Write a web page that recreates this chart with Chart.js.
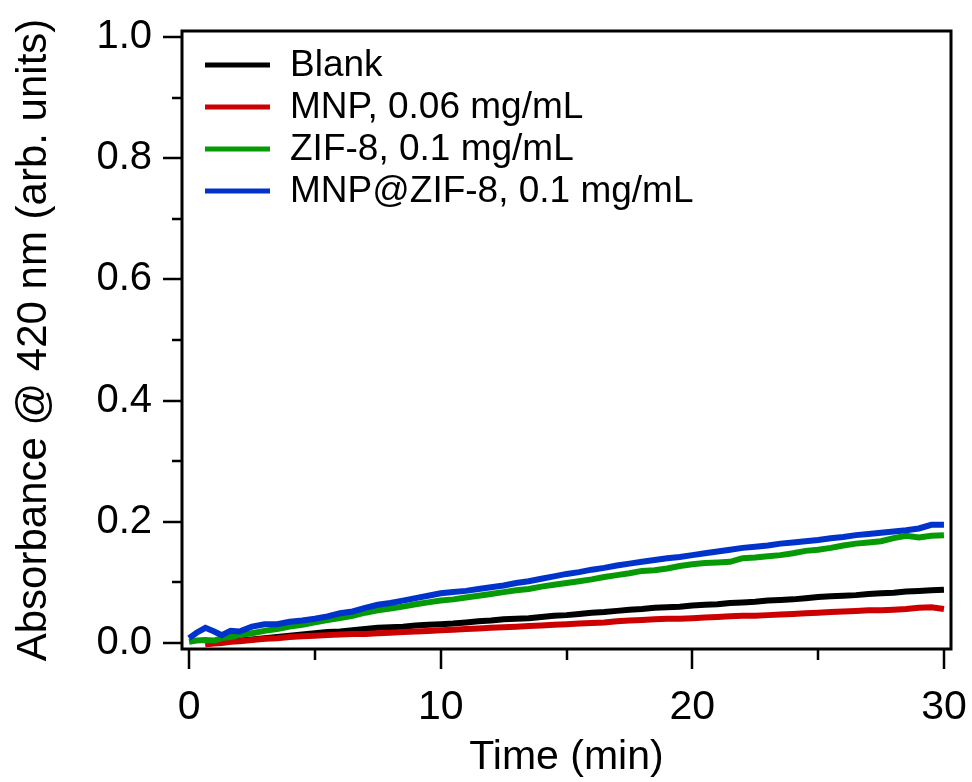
<!DOCTYPE html>
<html>
<head>
<meta charset="utf-8">
<script src="https://cdn.jsdelivr.net/npm/chart.js@4.4.1/dist/chart.umd.min.js"></script>
<style>
  html, body { margin: 0; padding: 0; background: #fff; }
  #wrap { width: 972px; height: 782px; }
</style>
</head>
<body>
<div id="wrap"><canvas id="c" width="972" height="782"></canvas></div>
<script>
// time axis (min), denser at the start where the blue trace wobbles
var timeMin = [0, 0.3, 0.65, 1.0, 1.3, 1.65, 2.0,
    2.5, 3, 3.5, 4, 4.5, 5, 5.5, 6, 6.5, 7, 7.5, 8, 8.5, 9, 9.5, 10,
    10.5, 11, 11.5, 12, 12.5, 13, 13.5, 14, 14.5, 15, 15.5, 16, 16.5, 17, 17.5, 18,
    18.5, 19, 19.5, 20, 20.5, 21, 21.5, 22, 22.5, 23, 23.5, 24, 24.5, 25, 25.5, 26,
    26.5, 27, 27.5, 28, 28.5, 29, 29.5, 30];

var blank = [null, null, -0.001, 0.000, 0.002, 0.003, 0.004,
    0.006, 0.008, 0.010, 0.012, 0.014, 0.016, 0.018, 0.019, 0.021, 0.023, 0.025, 0.026, 0.027, 0.029, 0.030, 0.031,
    0.032, 0.034, 0.036, 0.037, 0.039, 0.040, 0.041, 0.043, 0.045, 0.046, 0.048, 0.050, 0.051, 0.053, 0.055, 0.056,
    0.058, 0.059, 0.060, 0.062, 0.063, 0.064, 0.066, 0.067, 0.068, 0.070, 0.071, 0.072, 0.074, 0.076, 0.077, 0.078,
    0.079, 0.081, 0.082, 0.083, 0.085, 0.086, 0.087, 0.088];

var mnp = [null, null, -0.002, -0.001, 0.000, 0.002, 0.003,
    0.005, 0.007, 0.008, 0.010, 0.011, 0.012, 0.013, 0.014, 0.015, 0.015, 0.016, 0.017, 0.018, 0.019, 0.020, 0.021,
    0.022, 0.023, 0.024, 0.025, 0.026, 0.027, 0.028, 0.029, 0.030, 0.031, 0.032, 0.033, 0.034, 0.036, 0.037, 0.038,
    0.039, 0.040, 0.040, 0.041, 0.042, 0.043, 0.044, 0.045, 0.045, 0.046, 0.047, 0.048, 0.049, 0.050, 0.051, 0.052,
    0.053, 0.054, 0.054, 0.055, 0.056, 0.058, 0.059, 0.056];

var zif8 = [0.002, 0.004, 0.005, 0.004, 0.008, 0.010, 0.013,
    0.016, 0.020, 0.023, 0.027, 0.030, 0.034, 0.038, 0.041, 0.045, 0.050, 0.054, 0.057, 0.060, 0.064, 0.067, 0.070,
    0.072, 0.075, 0.078, 0.081, 0.084, 0.087, 0.089, 0.093, 0.096, 0.099, 0.102, 0.105, 0.109, 0.112, 0.115, 0.119,
    0.120, 0.123, 0.127, 0.130, 0.132, 0.133, 0.134, 0.140, 0.141, 0.143, 0.145, 0.148, 0.152, 0.154, 0.157, 0.161,
    0.164, 0.166, 0.168, 0.173, 0.177, 0.174, 0.177, 0.178];

var mnpZif8 = [0.008, 0.017, 0.025, 0.019, 0.013, 0.020, 0.019,
    0.027, 0.031, 0.031, 0.035, 0.037, 0.040, 0.044, 0.049, 0.052, 0.058, 0.063, 0.066, 0.070, 0.074, 0.078, 0.082,
    0.084, 0.086, 0.089, 0.092, 0.095, 0.099, 0.102, 0.106, 0.110, 0.114, 0.117, 0.121, 0.124, 0.128, 0.131, 0.134,
    0.137, 0.140, 0.142, 0.145, 0.148, 0.151, 0.154, 0.157, 0.159, 0.161, 0.164, 0.166, 0.168, 0.170, 0.173, 0.175,
    0.178, 0.180, 0.182, 0.184, 0.186, 0.189, 0.195, 0.195];

var seriesNames = ['Blank', 'MNP, 0.06 mg/mL', 'ZIF-8, 0.1 mg/mL', 'MNP@ZIF-8, 0.1 mg/mL'];
var seriesColors = ['#000000', '#cc0000', '#079a07', '#0033cc'];
var xTicks = [0, 10, 20, 30];
var xMinorTicks = [5, 15, 25];
var yTicks = [0, 0.2, 0.4, 0.6, 0.8, 1.0];
var yMinorTicks = [0.1, 0.3, 0.5, 0.7, 0.9];

var FONT = "'Liberation Sans', Arial, sans-serif";

function pts(vals) {
    return timeMin.map(function (t, i) { return { x: t, y: vals[i] }; });
}

var seriesValues = [blank, mnp, zif8, mnpZif8];
var datasets = seriesValues.map(function (v, i) {
    return {
        label: seriesNames[i],
        data: pts(v),
        borderColor: seriesColors[i],
        borderWidth: 6,
        pointRadius: 0,
        tension: 0,
        fill: false,
        spanGaps: false,
        order: [3, 2, 1, 0][i]
    };
});

// frame, outside tick marks and the legend (Igor-style box)
var framePlugin = {
    id: 'frame',
    afterDraw: function (chart) {
        var ctx = chart.ctx;
        var a = chart.chartArea;
        var xs = chart.scales.x, ys = chart.scales.y;
        ctx.save();
        ctx.strokeStyle = '#000';
        ctx.lineWidth = 3;
        ctx.strokeRect(a.left, a.top, a.right - a.left, a.bottom - a.top);
        ctx.lineWidth = 2.5;
        ctx.beginPath();
        xTicks.forEach(function (v) {
            var px = Math.round(xs.getPixelForValue(v));
            ctx.moveTo(px, a.bottom); ctx.lineTo(px, a.bottom + 20);
        });
        xMinorTicks.forEach(function (v) {
            var px = Math.round(xs.getPixelForValue(v));
            ctx.moveTo(px, a.bottom); ctx.lineTo(px, a.bottom + 11);
        });
        yTicks.forEach(function (v) {
            var py = Math.round(ys.getPixelForValue(v));
            ctx.moveTo(a.left, py); ctx.lineTo(a.left - 19, py);
        });
        yMinorTicks.forEach(function (v) {
            var py = Math.round(ys.getPixelForValue(v));
            ctx.moveTo(a.left, py); ctx.lineTo(a.left - 10, py);
        });
        ctx.stroke();

        // legend
        ctx.font = '37px ' + FONT;
        ctx.textBaseline = 'middle';
        ctx.textAlign = 'left';
        chart.data.datasets.forEach(function (ds, i) {
            var y = a.top + 34 + i * 42;
            ctx.strokeStyle = ds.borderColor;
            ctx.lineWidth = 5;
            ctx.beginPath();
            ctx.moveTo(a.left + 23, y);
            ctx.lineTo(a.left + 88, y);
            ctx.stroke();
            ctx.fillStyle = '#000';
            ctx.fillText(ds.label, a.left + 108, y + 1);
        });
        ctx.restore();
    }
};

new Chart(document.getElementById('c'), {
    type: 'line',
    data: { datasets: datasets },
    options: {
        responsive: false,
        animation: false,
        devicePixelRatio: 1,
        layout: { padding: { top: 31, right: 21, left: 0, bottom: 0 } },
        plugins: { legend: { display: false }, tooltip: { enabled: false } },
        scales: {
            x: {
                type: 'linear',
                min: -0.28,
                max: 30.28,
                afterBuildTicks: function (s) { s.ticks = xTicks.map(function (v) { return { value: v }; }); },
                afterFit: function (s) {
                    s.height = 133;
                    s.paddingLeft = 0; s.paddingRight = 0;
                    s.paddingTop = 0; s.paddingBottom = 0;
                },
                grid: { display: false, drawTicks: false },
                border: { display: false },
                ticks: {
                    padding: 34,
                    color: '#000',
                    font: { family: FONT, size: 41 },
                    maxRotation: 0,
                    callback: function (v) { return String(v); }
                },
                title: {
                    display: true,
                    text: 'Time (min)',
                    color: '#000',
                    font: { family: FONT, size: 41 },
                    padding: { top: 0, bottom: 0 }
                }
            },
            y: {
                type: 'linear',
                min: -0.0099,
                max: 1.0099,
                afterBuildTicks: function (s) { s.ticks = yTicks.map(function (v) { return { value: v }; }); },
                afterFit: function (s) {
                    s.width = 182;
                    s.paddingLeft = 0; s.paddingRight = 0;
                    s.paddingTop = 0; s.paddingBottom = 0;
                },
                grid: { display: false, drawTicks: false },
                border: { display: false },
                ticks: {
                    padding: 30,
                    color: '#000',
                    font: { family: FONT, size: 40 },
                    callback: function (v) { return v.toFixed(1); }
                },
                title: {
                    display: true,
                    text: 'Absorbance @ 420 nm (arb. units)',
                    color: '#000',
                    font: { family: FONT, size: 42 },
                    padding: { top: 9, bottom: 0 }
                }
            }
        }
    },
    plugins: [framePlugin]
});
</script>
</body>
</html>
